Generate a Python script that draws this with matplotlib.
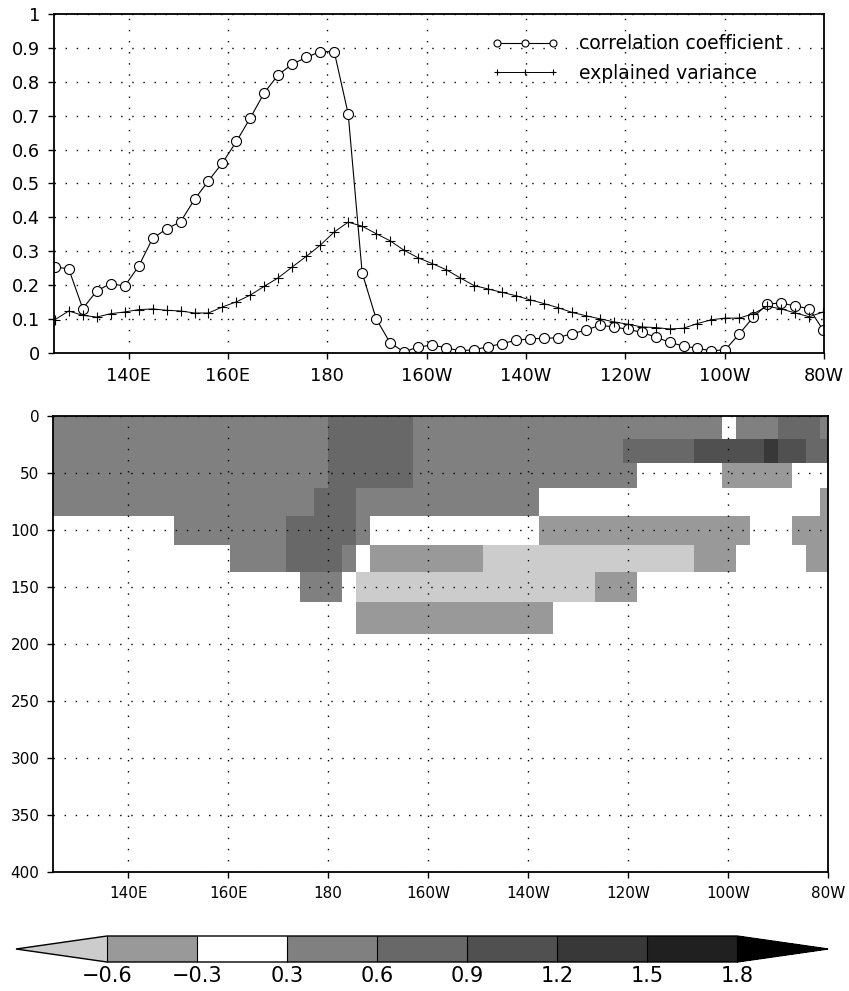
import numpy as np
import matplotlib
matplotlib.use("Agg")
import matplotlib.pyplot as plt
from matplotlib.colors import ListedColormap, BoundaryNorm

# longitude grid (2.8125 deg spacing) shared by both panels
lon0 = 125.16
dlon = 2.8125
n_lon = 56
lon = lon0 + dlon * np.arange(n_lon)
lon_edges = lon0 + dlon * (np.arange(n_lon + 1) - 0.5)

corr = [0.254, 0.248, 0.131, 0.183, 0.205, 0.197, 0.256, 0.338, 0.366, 0.387,
        0.453, 0.508, 0.561, 0.624, 0.694, 0.768, 0.821, 0.852, 0.872, 0.889,
        0.889, 0.705, 0.236, 0.101, 0.030, 0.003, 0.018, 0.023, 0.016, 0.006,
        0.010, 0.018, 0.028, 0.037, 0.042, 0.043, 0.045, 0.057, 0.067, 0.082,
        0.077, 0.070, 0.061, 0.047, 0.032, 0.020, 0.014, 0.006, 0.010, 0.057,
        0.106, 0.144, 0.148, 0.138, 0.131, 0.067]

expvar = [0.098, 0.124, 0.111, 0.106, 0.116, 0.121, 0.128, 0.130, 0.126, 0.124,
          0.118, 0.118, 0.136, 0.151, 0.171, 0.197, 0.222, 0.254, 0.285, 0.318,
          0.357, 0.386, 0.374, 0.352, 0.331, 0.303, 0.281, 0.264, 0.246, 0.222,
          0.199, 0.189, 0.179, 0.169, 0.157, 0.146, 0.134, 0.120, 0.110, 0.101,
          0.092, 0.085, 0.077, 0.075, 0.071, 0.073, 0.087, 0.098, 0.103, 0.103,
          0.116, 0.138, 0.130, 0.118, 0.107, 0.121]

# depth levels (cell edges, m) of the regression section
depth_edges = [0, 20, 41, 63, 88, 113, 137, 163, 191]

# regression coefficients, one row per depth layer, 56 longitudes each
reg = np.array([
    # 0-20 m
    [0.45] * 20 + [0.75] * 6 + [0.45] * 22 + [0.0] + [0.45] * 3 + [0.75] * 3 + [0.45],
    # 20-41 m
    [0.45] * 20 + [0.75] * 6 + [0.45] * 15 + [0.75] * 5 + [1.05] * 5 + [1.35]
    + [1.05] * 2 + [0.75] * 2,
    # 41-63 m
    [0.45] * 20 + [0.75] * 6 + [0.45] * 16 + [0.0] * 6 + [-0.45] * 5 + [0.0] * 3,
    # 63-88 m
    [0.45] * 19 + [0.75] * 3 + [0.45] * 13 + [0.0] * 20 + [-0.45],
    # 88-113 m
    [0.0] * 9 + [0.45] * 8 + [0.75] * 5 + [0.45] + [0.0] * 12 + [-0.45] * 15
    + [0.0] * 3 + [-0.45] * 3,
    # 113-137 m
    [0.0] * 13 + [0.45] * 4 + [0.75] * 4 + [0.45] + [0.0] + [-0.45] * 8
    + [-0.75] * 15 + [-0.45] * 3 + [0.0] * 5 + [-0.45] * 2,
    # 137-163 m
    [0.0] * 18 + [0.45] * 3 + [0.0] + [-0.75] * 17 + [-0.45] * 3 + [0.0] * 14,
    # 163-191 m
    [0.0] * 22 + [-0.45] * 14 + [0.0] * 20,
])

levels = [-0.6, -0.3, 0.3, 0.6, 0.9, 1.2, 1.5, 1.8]
level_labels = ["\u22120.6", "\u22120.3", "0.3", "0.6", "0.9", "1.2", "1.5", "1.8"]
shades = ["#999999", "#ffffff", "#808080", "#686868", "#505050", "#383838", "#202020"]

xticks = [140, 160, 180, 200, 220, 240, 260, 280]
xticklabels = ["140E", "160E", "180", "160W", "140W", "120W", "100W", "80W"]

grid_style = dict(color="black", linestyle=(0, (1, 7)), linewidth=1.0)

fig = plt.figure(figsize=(8.49, 9.91), dpi=100)

# top panel: correlation / explained variance along the section
ax1 = fig.add_axes([54 / 849, 1 - 353 / 991, 770 / 849, 339 / 991])
ax1.plot(lon, corr, "-o", color="black", lw=0.8, ms=7.2, mfc="white", mec="black",
         mew=0.8, label="correlation coefficient")
ax1.plot(lon, expvar, "-+", color="black", lw=0.7, ms=7, mew=0.8,
         label="explained variance")
ax1.set_xlim(125, 280)
ax1.set_ylim(0, 1)
ax1.set_xticks(xticks)
ax1.set_xticklabels(xticklabels)
yt = np.round(np.arange(0, 1.01, 0.1), 1)
ax1.set_yticks(yt)
ax1.set_yticklabels([f"{v:g}" for v in yt])
ax1.tick_params(labelsize=12.8, length=4, width=1, pad=6)
ax1.grid(True, **grid_style)
for s in ax1.spines.values():
    s.set_linewidth(1.3)
ax1.legend(loc="upper left", bbox_to_anchor=(0.568, 0.94), frameon=False,
           numpoints=3, handlelength=3.6, handletextpad=1.1, borderpad=0,
           borderaxespad=0, markerscale=0.7, fontsize=13.5, labelspacing=0.55)

# bottom panel: depth-longitude section of regression coefficients
cmap = ListedColormap(shades)
cmap.set_under("#cccccc")
cmap.set_over("#000000")
norm = BoundaryNorm(levels, cmap.N)

ax2 = fig.add_axes([53.3 / 849, 1 - 872 / 991, 774.7 / 849, 456 / 991])
mesh = ax2.pcolormesh(lon_edges, depth_edges, reg, cmap=cmap, norm=norm)
ax2.set_xlim(125, 280)
ax2.set_ylim(400, 0)
ax2.set_xticks(xticks)
ax2.set_xticklabels(xticklabels)
ax2.set_yticks(np.arange(0, 401, 50))
ax2.tick_params(labelsize=11, length=4, width=1, pad=6)
ax2.grid(True, **grid_style)
for s in ax2.spines.values():
    s.set_linewidth(1.3)

# colour bar with both ends extended (axes span includes the triangles)
cax = fig.add_axes([16 / 849, 1 - 962 / 991, 812 / 849, 26 / 991])
cb = fig.colorbar(mesh, cax=cax, orientation="horizontal", extend="both",
                  extendfrac=91 / 630, drawedges=True, ticks=levels)
cb.set_ticklabels(level_labels)
cb.ax.tick_params(length=0, labelsize=15, pad=3)
cb.outline.set_linewidth(1.0)
cb.dividers.set_linewidth(0.8)

fig.savefig("out.png", dpi=100)
